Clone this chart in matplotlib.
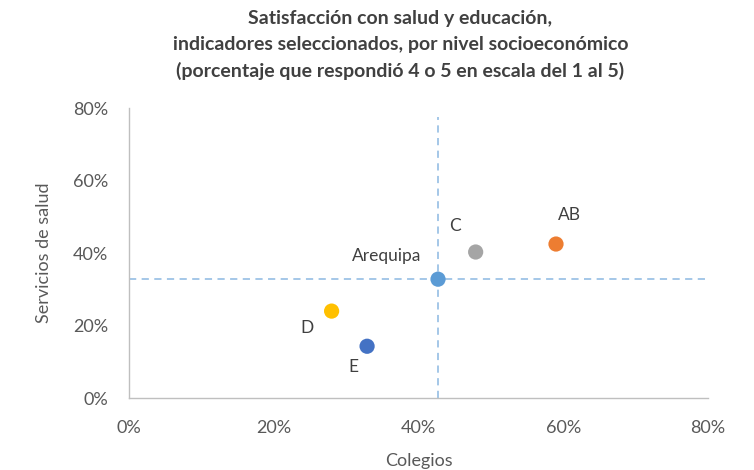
import matplotlib
matplotlib.use("Agg")
import matplotlib.pyplot as plt
from matplotlib.ticker import PercentFormatter

plt.rcParams['font.family'] = ['Lato', 'DejaVu Sans']

labels = ["Arequipa", "C", "AB", "D", "E"]
colegios = [42.7, 47.9, 59.0, 28.0, 32.9]
salud = [32.8, 40.3, 42.5, 24.0, 14.3]
colors = ["#5B9BD5", "#A5A5A5", "#ED7D31", "#FFC000", "#4472C4"]
# label offsets in points (dx, dy)
offsets = [(-12, 17), (-15, 19), (10, 21), (-18, -12), (-10, -15)]
ha = ["right", "center", "center", "center", "center"]

fig = plt.figure(figsize=(7.54, 4.70), dpi=100)
ax = fig.add_axes([0.171, 0.153, 0.768, 0.617])

ax.set_xlim(0, 80)
ax.set_ylim(0, 80)

ax.axvline(colegios[0], ymin=0, ymax=0.97, color="#9DC3E6", ls=(0, (4, 3)), lw=1.3, zorder=1)
ax.axhline(salud[0], xmin=0, xmax=1, color="#9DC3E6", ls=(0, (4, 3)), lw=1.3, zorder=1)

ax.scatter(colegios, salud, s=120, c=colors, zorder=3, edgecolors="none")
for lab, x, y, off, h in zip(labels, colegios, salud, offsets, ha):
    ax.annotate(lab, (x, y), xytext=off, textcoords="offset points",
                ha=h, va="center", fontsize=12.5, color="#404040")

ax.set_xticks([0, 20, 40, 60, 80])
ax.set_yticks([0, 20, 40, 60, 80])
ax.xaxis.set_major_formatter(PercentFormatter(decimals=0))
ax.yaxis.set_major_formatter(PercentFormatter(decimals=0))
ax.tick_params(axis="both", length=0, labelsize=13, labelcolor="#595959")
ax.tick_params(axis="x", pad=16)
ax.tick_params(axis="y", pad=15)

for s in ["top", "right"]:
    ax.spines[s].set_visible(False)
for s in ["left", "bottom"]:
    ax.spines[s].set_color("#BFBFBF")
    ax.spines[s].set_linewidth(1.0)

ax.set_xlabel("Colegios", fontsize=13, color="#595959", labelpad=12)
ax.set_ylabel("Servicios de salud", fontsize=13, color="#595959", labelpad=15)

fig.text(0.531, 0.978, "Satisfacción con salud y educación,\nindicadores seleccionados, por nivel socioeconómico\n(porcentaje que respondió 4 o 5 en escala del 1 al 5)",
         ha="center", va="top", fontsize=14, fontweight="bold", color="#404040", linespacing=1.6)

fig.savefig("out.png", dpi=100)
